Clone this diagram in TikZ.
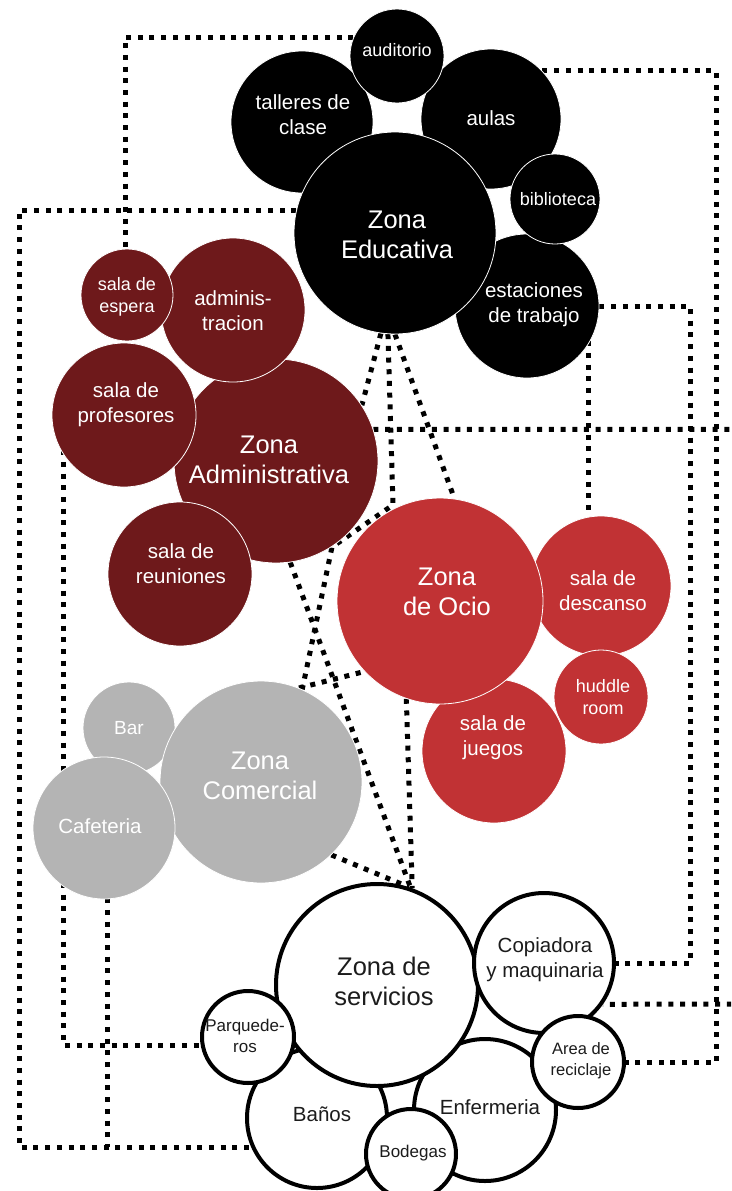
\documentclass[tikz,border=0pt]{standalone}
\usepackage{fontspec}
\setmainfont{Liberation Sans}
\usetikzlibrary{backgrounds}

\definecolor{edublack}{RGB}{0,0,0}
\definecolor{admred}{RGB}{110,25,27}
\definecolor{ociored}{RGB}{193,50,52}
\definecolor{comgray}{RGB}{180,180,180}
\definecolor{ink}{RGB}{28,28,28}

\tikzset{
  zone/.style={circle, inner sep=0pt, draw=white, line width=0.8pt},
  edu/.style={zone, fill=edublack},
  adm/.style={zone, fill=admred},
  ocio/.style={zone, fill=ociored},
  com/.style={zone, fill=comgray},
  serv/.style={circle, inner sep=0pt, draw=black, line width=4pt, fill=white},
  txtbig/.style={align=center, inner sep=0pt, font=\fontsize{25.5}{30}\selectfont},
  txtmid/.style={align=center, inner sep=0pt, font=\fontsize{20.5}{25}\selectfont},
  txtsmall/.style={align=center, inner sep=0pt, font=\fontsize{18}{22}\selectfont},
  dotline/.style={line width=5pt, dash pattern=on 5pt off 6.7pt}
}

\begin{document}
\begin{tikzpicture}[x=1pt, y=-1pt]
\useasboundingbox (0,0) rectangle (731,1191);
\clip (0,0) rectangle (731,1191);

% Zona Educativa (black)
\node[edu, minimum size=142] (tall) at (302,122) {};
\node[edu, minimum size=140] (aulas) at (491,119) {};
\node[edu, minimum size=94] (audi) at (397,56) {};
\node[edu, minimum size=144] (esta) at (527,306) {};
\node[edu, minimum size=202] (zedu) at (395,233) {};
\node[edu, minimum size=90] (bibl) at (555,199) {};

% Zona Administrativa (maroon)
\node[adm, minimum size=204] (zadm) at (276,461) {};
\node[adm, minimum size=144] (admi) at (233,310) {};
\node[adm, minimum size=144] (prof) at (124,415) {};
\node[adm, minimum size=92] (espe) at (127,295) {};
\node[adm, minimum size=144] (reun) at (180,574) {};

% Zona de Ocio (red)
\node[ocio, minimum size=144] (jueg) at (494,751) {};
\node[ocio, minimum size=140] (desc) at (601,586) {};
\node[ocio, minimum size=206] (zocio) at (440,601) {};
\node[ocio, minimum size=94] (hudd) at (601,697) {};

% Zona Comercial (gray)
\node[com, minimum size=92] (bar) at (129,728) {};
\node[com, minimum size=202] (zcom) at (261,782) {};
\node[com, minimum size=142] (cafe) at (104,828) {};

% Zona de servicios (white, black outline)
\node[serv, minimum size=140] (banos) at (317,1118) {};
\node[serv, minimum size=142] (enfe) at (485,1110) {};
\node[serv, minimum size=202] (zserv) at (377,985) {};
\node[serv, minimum size=140] (copi) at (544,963) {};
\node[serv, minimum size=92] (reci) at (578,1062) {};
\node[serv, minimum size=92] (parq) at (248,1037) {};
\node[serv, minimum size=90] (bode) at (411,1154) {};

% labels
\node[txtsmall, white, yshift=6pt] (l-audi) at (audi) {auditorio};
\node[txtmid, white, xshift=1pt, yshift=7pt] (l-tall) at (tall) {talleres de\\clase};
\node[txtmid, white, yshift=1pt] (l-aulas) at (aulas) {aulas};
\node[txtbig, white, xshift=2pt, yshift=-2pt] (l-zedu) at (zedu) {Zona\\Educativa};
\node[txtsmall, white, xshift=3pt] (l-bibl) at (bibl) {biblioteca};
\node[txtmid, white, xshift=7pt, yshift=1pt] (l-esta) at (esta) {estaciones\\de trabajo};

\node[txtsmall, white, yshift=-2pt] (l-espe) at (espe) {sala de\\espera};
\node[txtmid, white, yshift=-1pt] (l-admi) at (admi) {adminis-\\tracion};
\node[txtmid, white, xshift=2pt, yshift=10pt] (l-prof) at (prof) {sala de\\profesores};
\node[txtbig, white, xshift=-7pt, yshift=1pt] (l-zadm) at (zadm) {Zona\\Administrativa};
\node[txtmid, white, xshift=1pt, yshift=10pt] (l-reun) at (reun) {sala de\\reuniones};

\node[txtbig, white, xshift=7pt, yshift=9pt] (l-zocio) at (zocio) {Zona\\de Ocio};
\node[txtmid, white, xshift=2pt, yshift=-5pt] (l-desc) at (desc) {sala de\\descanso};
\node[txtsmall, white, xshift=2pt] (l-hudd) at (hudd) {huddle\\room};
\node[txtmid, white, xshift=-1pt, yshift=13pt] (l-jueg) at (jueg) {sala de\\juegos};

\node[txtmid, white, font=\fontsize{19}{23}\selectfont] (l-bar) at (bar) {Bar};
\node[txtbig, white, xshift=-1pt, yshift=6pt] (l-zcom) at (zcom) {Zona\\Comercial};
\node[txtmid, white, xshift=-4pt, yshift=2pt] (l-cafe) at (cafe) {Cafeteria};

\node[txtbig, ink, xshift=7pt, yshift=4pt] (l-zserv) at (zserv) {Zona de\\servicios};
\node[txtmid, ink, xshift=1pt, yshift=3pt] (l-copi) at (copi) {Copiadora\\y maquinaria};
\node[txtsmall, ink, xshift=3pt, yshift=1pt, font=\fontsize{16.5}{21}\selectfont] (l-reci) at (reci) {Area de\\reciclaje};
\node[txtmid, ink, xshift=5pt, yshift=3pt] (l-enfe) at (enfe) {Enfermeria};
\node[txtsmall, ink, xshift=2pt, yshift=1pt, font=\fontsize{17}{21}\selectfont] (l-bode) at (bode) {Bodegas};
\node[txtmid, ink, xshift=5pt, yshift=4pt] (l-banos) at (banos) {Baños};
\node[txtsmall, ink, xshift=-3pt, yshift=1pt, font=\fontsize{17}{21}\selectfont] (l-parq) at (parq) {Parquede-\\ros};

% dotted links, behind the circles
\begin{pgfonlayer}{background}
\clip (0,0) rectangle (731,1191);
\coordinate (c1) at (125,37);
\coordinate (c2) at (716,1062);
\coordinate (c3) at (690,963);
\coordinate (c4) at (588,0);
\coordinate (c5) at (745,1004);
\coordinate (c6) at (19,1147);
\coordinate (c7) at (63,1045);
\coordinate (c8) at (107,1147);
\coordinate (c9) at (393,505);
\coordinate (c10) at (332,547);
% outer frame lines
\draw[dotline] (audi.157) -| (c1 |- espe);
\draw[dotline] (aulas.43) -| (c2) -- (reci);
\draw[dotline] (esta) -| (c3) -- (copi);
\draw[dotline] (c4 |- esta) -- (c4 |- desc);
\draw[dotline] (zadm.18) -| (c5) -- (copi.-35);
\draw[dotline] (zedu.167) -| (c6) -- (c6 -| banos);
\draw[dotline] (c7 |- prof) -- (c7) -- (c7 -| parq);
\draw[dotline] (c8 |- cafe) -- (c8);
% links between the main zones
\draw[dotline] (zedu.-98) -- (zadm.33);
\draw[dotline] (zedu.-94) -- (c9) -- (c10) -- (zcom.66);
\draw[dotline] (zedu.-90) -- (zocio.82);
\draw[dotline] (zadm.-82) -- (zserv.71);
\draw[dotline] (zcom.68) -- (zocio.-137);
\draw[dotline] (zocio.-109) -- (zserv.70);
\draw[dotline] (zcom.-46) -- (zserv.72);
\end{pgfonlayer}
\end{tikzpicture}
\end{document}
